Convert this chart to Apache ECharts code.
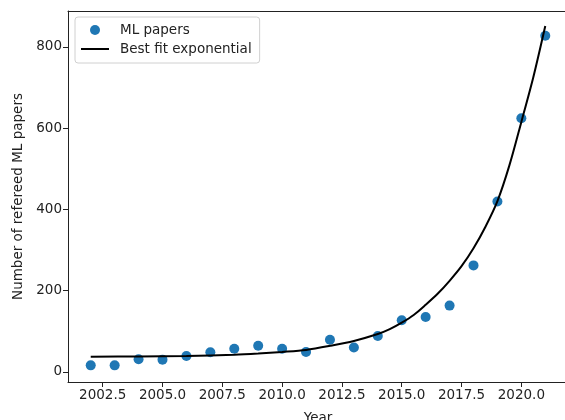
<!DOCTYPE html>
<html>
<head>
<meta charset="utf-8">
<script src="https://cdn.jsdelivr.net/npm/echarts@6/dist/echarts.min.js"></script>
<style>html,body{margin:0;padding:0;background:#fff}#c{width:565px;height:420px}</style>
</head>
<body>
<div id="c"></div>
<script>
const years = [2002,2003,2004,2005,2006,2007,2008,2009,2010,2011,2012,2013,2014,2015,2016,2017,2018,2019,2020,2021];
const papers = [16,16,31,30,39,48,57,64,57,49,79,60,88,127,135,163,262,419,624,827];
// Best-fit curve, values
const fitYears = [2002,2004,2006,2008,2009,2010,2011,2012,2013,2014,2014.5,2015,2015.5,2016,2016.5,2017,2017.5,2018,2018.5,2019,2019.5,2020,2020.5,2021];
const fitValues = [37,38,39,42,45,49,54,64,76,93,105,121,140,165,192,224,260,304,357,420,508,615,725,851];
// Tick labels
const xTicks = [2002.5,2005,2007.5,2010,2012.5,2015,2017.5,2020];
const yTicks = [0,200,400,600,800];

const font = 'DejaVu Sans';
const fs = 13.5;
const ink = '#222';
const chart = echarts.init(document.getElementById('c'), null, {renderer:'canvas'});
chart.setOption({
  animation: false,
  backgroundColor: '#fff',
  grid: {left: 68, top: 11, width: 500, height: 371, show: false, outerBoundsMode: 'none', containLabel: false},
  legend: {
    orient: 'vertical', left: 75, top: 17,
    padding: [6, 8, 7, 5], itemGap: 5, itemWidth: 28, itemHeight: 10,
    backgroundColor: '#fff', borderColor: '#d0d0d0', borderWidth: 1, borderRadius: 3,
    textStyle: {fontFamily: font, fontSize: fs, color: ink, lineHeight: 14, padding: [0,0,0,6]},
    data: [
      {name: 'ML papers', icon: 'circle'},
      {name: 'Best fit exponential', itemStyle: {color: 'rgba(0,0,0,0)', borderWidth: 0, opacity: 0}}
    ]
  },
  xAxis: [{
    type: 'value', min: 2001.05, max: 2021.95,
    name: 'Year', nameLocation: 'middle', nameGap: 29,
    nameTextStyle: {fontFamily: font, fontSize: fs, color: ink},
    axisLine: {show: true, onZero: false, lineStyle: {color: ink, width: 1}},
    axisTick: {show: true, length: 5, lineStyle: {color: ink}, customValues: xTicks},
    axisLabel: {fontFamily: font, fontSize: fs, color: ink, margin: 6, customValues: xTicks,
      formatter: v => Number(v).toFixed(1)},
    splitLine: {show: false}
  }, {
    type: 'value', position: 'top', min: 2001.05, max: 2021.95,
    axisLine: {show: true, onZero: false, lineStyle: {color: ink, width: 1}},
    axisTick: {show: false}, axisLabel: {show: false}, splitLine: {show: false}
  }],
  yAxis: {
    type: 'value', min: -25, max: 888,
    name: 'Number of refereed ML papers', nameLocation: 'middle', nameGap: 37,
    nameTextStyle: {fontFamily: font, fontSize: fs, color: ink},
    axisLine: {show: true, onZero: false, lineStyle: {color: ink, width: 1}},
    axisTick: {show: true, length: 5, lineStyle: {color: ink}, customValues: yTicks},
    axisLabel: {fontFamily: font, fontSize: fs, color: ink, margin: 6, customValues: yTicks,
      formatter: v => String(v)},
    splitLine: {show: false}
  },
  series: [
    {name: 'ML papers', type: 'scatter', symbolSize: 10, itemStyle: {color: '#1f77b4', opacity: 1},
     data: years.map((y, i) => [y, papers[i]]), z: 2},
    {name: 'Best fit exponential', type: 'line', symbol: 'none', smooth: 0.3,
     lineStyle: {color: '#000', width: 2}, itemStyle: {color: '#000'},
     data: fitYears.map((y, i) => [y, fitValues[i]]), z: 3}
  ]
});
</script>
</body>
</html>
